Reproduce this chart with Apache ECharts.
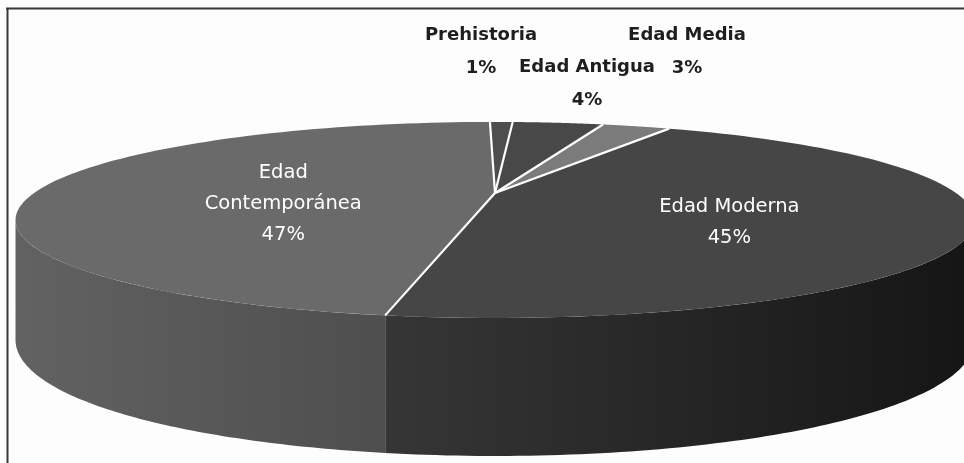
<!DOCTYPE html>
<html>
<head>
<meta charset="utf-8">
<script src="https://cdn.jsdelivr.net/npm/echarts@6/dist/echarts.min.js"></script>
<style>
  html, body { margin: 0; padding: 0; background: #fdfdfd; }
  #grafico { width: 964px; height: 463px; }
</style>
</head>
<body>
<div id="grafico"></div>
<script>
// Datos: porcentaje de cada periodo histórico
const periodos = ['Prehistoria', 'Edad Antigua', 'Edad Media', 'Edad Moderna', 'Edad Contemporánea'];
const porcentajes = [1, 4, 3, 45, 47];
const etiquetas = ['Prehistoria\n1%', 'Edad Antigua\n4%', 'Edad Media\n3%', 'Edad Moderna\n45%', 'Edad\nContemporánea\n47%'];

// Estilo de cada porción (tapa y lateral)
const coloresTapa = ['#4e4e4e', '#484848', '#7b7b7b', '#464646', '#6a6a6a'];
const coloresLado = {
    3: ['#363636', '#151515'],
    4: ['#626262', '#4e4e4e']
};
// Etiquetas exteriores (porciones pequeñas), centro del bloque de texto
const etiquetasFuera = { 0: [481, 52], 1: [587, 84], 2: [687, 52] };

// Geometría de la torta 3D en perspectiva
const CX = 495, CY = 193;      // centro de la torta
const A = 461, B = 90.6;       // escala horizontal / vertical
const K = 0.275;               // fuerza de la perspectiva
const INICIO = -0.8;           // ángulo inicial (grados, horario desde atrás)
const PASOS = 90;
const LADO_INI = 106, LADO_FIN = 254; // tramo visible del lateral

function punto(grados, r) {
    const t = grados * Math.PI / 180;
    const X = r * Math.sin(t), Z = -r * Math.cos(t);
    const w = 1 - K * Z;
    return [CX + A * X / w, CY + B * Z / w];
}
function profundidad(grados) {
    const Z = -Math.cos(grados * Math.PI / 180);
    return 113 + 25 * Z;
}

const total = porcentajes.reduce((a, b) => a + b, 0);

function dibujarPorcion(params, api) {
    const i = params.dataIndex;
    let acumulado = 0;
    for (let j = 0; j < i; j++) acumulado += porcentajes[j];
    const a1 = INICIO + 360 * acumulado / total;
    const a2 = INICIO + 360 * (acumulado + api.value(0)) / total;
    const hijos = [];

    // tapa superior
    const tapa = [[CX, CY]];
    for (let n = 0; n <= PASOS; n++) tapa.push(punto(a1 + (a2 - a1) * n / PASOS, 1));
    hijos.push({ type: 'polygon', shape: { points: tapa }, style: { fill: coloresTapa[i] }, z2: 10 });

    // lateral visible
    const l1 = Math.max(a1, LADO_INI), l2 = Math.min(a2, LADO_FIN);
    if (l2 > l1 && coloresLado[i]) {
        const arriba = [], abajo = [];
        for (let n = 0; n <= PASOS; n++) {
            const g = l1 + (l2 - l1) * n / PASOS;
            const p = punto(g, 1);
            arriba.push(p);
            abajo.push([p[0], p[1] + profundidad(g)]);
        }
        hijos.push({
            type: 'polygon',
            shape: { points: arriba.concat(abajo.reverse()) },
            style: {
                fill: new echarts.graphic.LinearGradient(0, 0, 1, 0, [
                    { offset: 0, color: coloresLado[i][0] },
                    { offset: 1, color: coloresLado[i][1] }
                ])
            },
            z2: 1
        });
    }

    // línea blanca de separación al inicio de la porción
    const borde = punto(a1, 1);
    hijos.push({
        type: 'line',
        shape: { x1: CX, y1: CY, x2: borde[0], y2: borde[1] },
        style: { stroke: '#ffffff', lineWidth: 2.2 },
        z2: 15
    });

    // etiqueta
    if (etiquetasFuera[i]) {
        const pos = etiquetasFuera[i];
        hijos.push({
            type: 'text', x: pos[0], y: pos[1], z2: 20,
            style: {
                text: etiquetas[i], align: 'center', verticalAlign: 'middle',
                fill: '#1e1e1e', fontFamily: 'DejaVu Sans', fontWeight: 'bold',
                fontSize: 18, lineHeight: 33
            }
        });
    } else {
        const p = punto((a1 + a2) / 2, 0.49);
        hijos.push({
            type: 'text', x: p[0] + 11, y: p[1] + 14, z2: 20,
            style: {
                text: etiquetas[i], align: 'center', verticalAlign: 'middle',
                fill: '#ffffff', fontFamily: 'DejaVu Sans',
                fontSize: 19.5, lineHeight: 31
            }
        });
    }
    return { type: 'group', children: hijos };
}

const grafico = echarts.init(document.getElementById('grafico'));
grafico.setOption({
    backgroundColor: '#fdfdfd',
    animation: false,
    graphic: [
        { type: 'line', shape: { x1: 6, y1: 8.5, x2: 964, y2: 8.5 }, style: { stroke: '#383838', lineWidth: 2 } },
        { type: 'line', shape: { x1: 7.5, y1: 8, x2: 7.5, y2: 463 }, style: { stroke: '#383838', lineWidth: 2 } }
    ],
    series: [{
        type: 'custom',
        coordinateSystem: 'none',
        renderItem: dibujarPorcion,
        data: porcentajes.map((v, i) => ({ name: periodos[i], value: [v] }))
    }]
});
</script>
</body>
</html>
